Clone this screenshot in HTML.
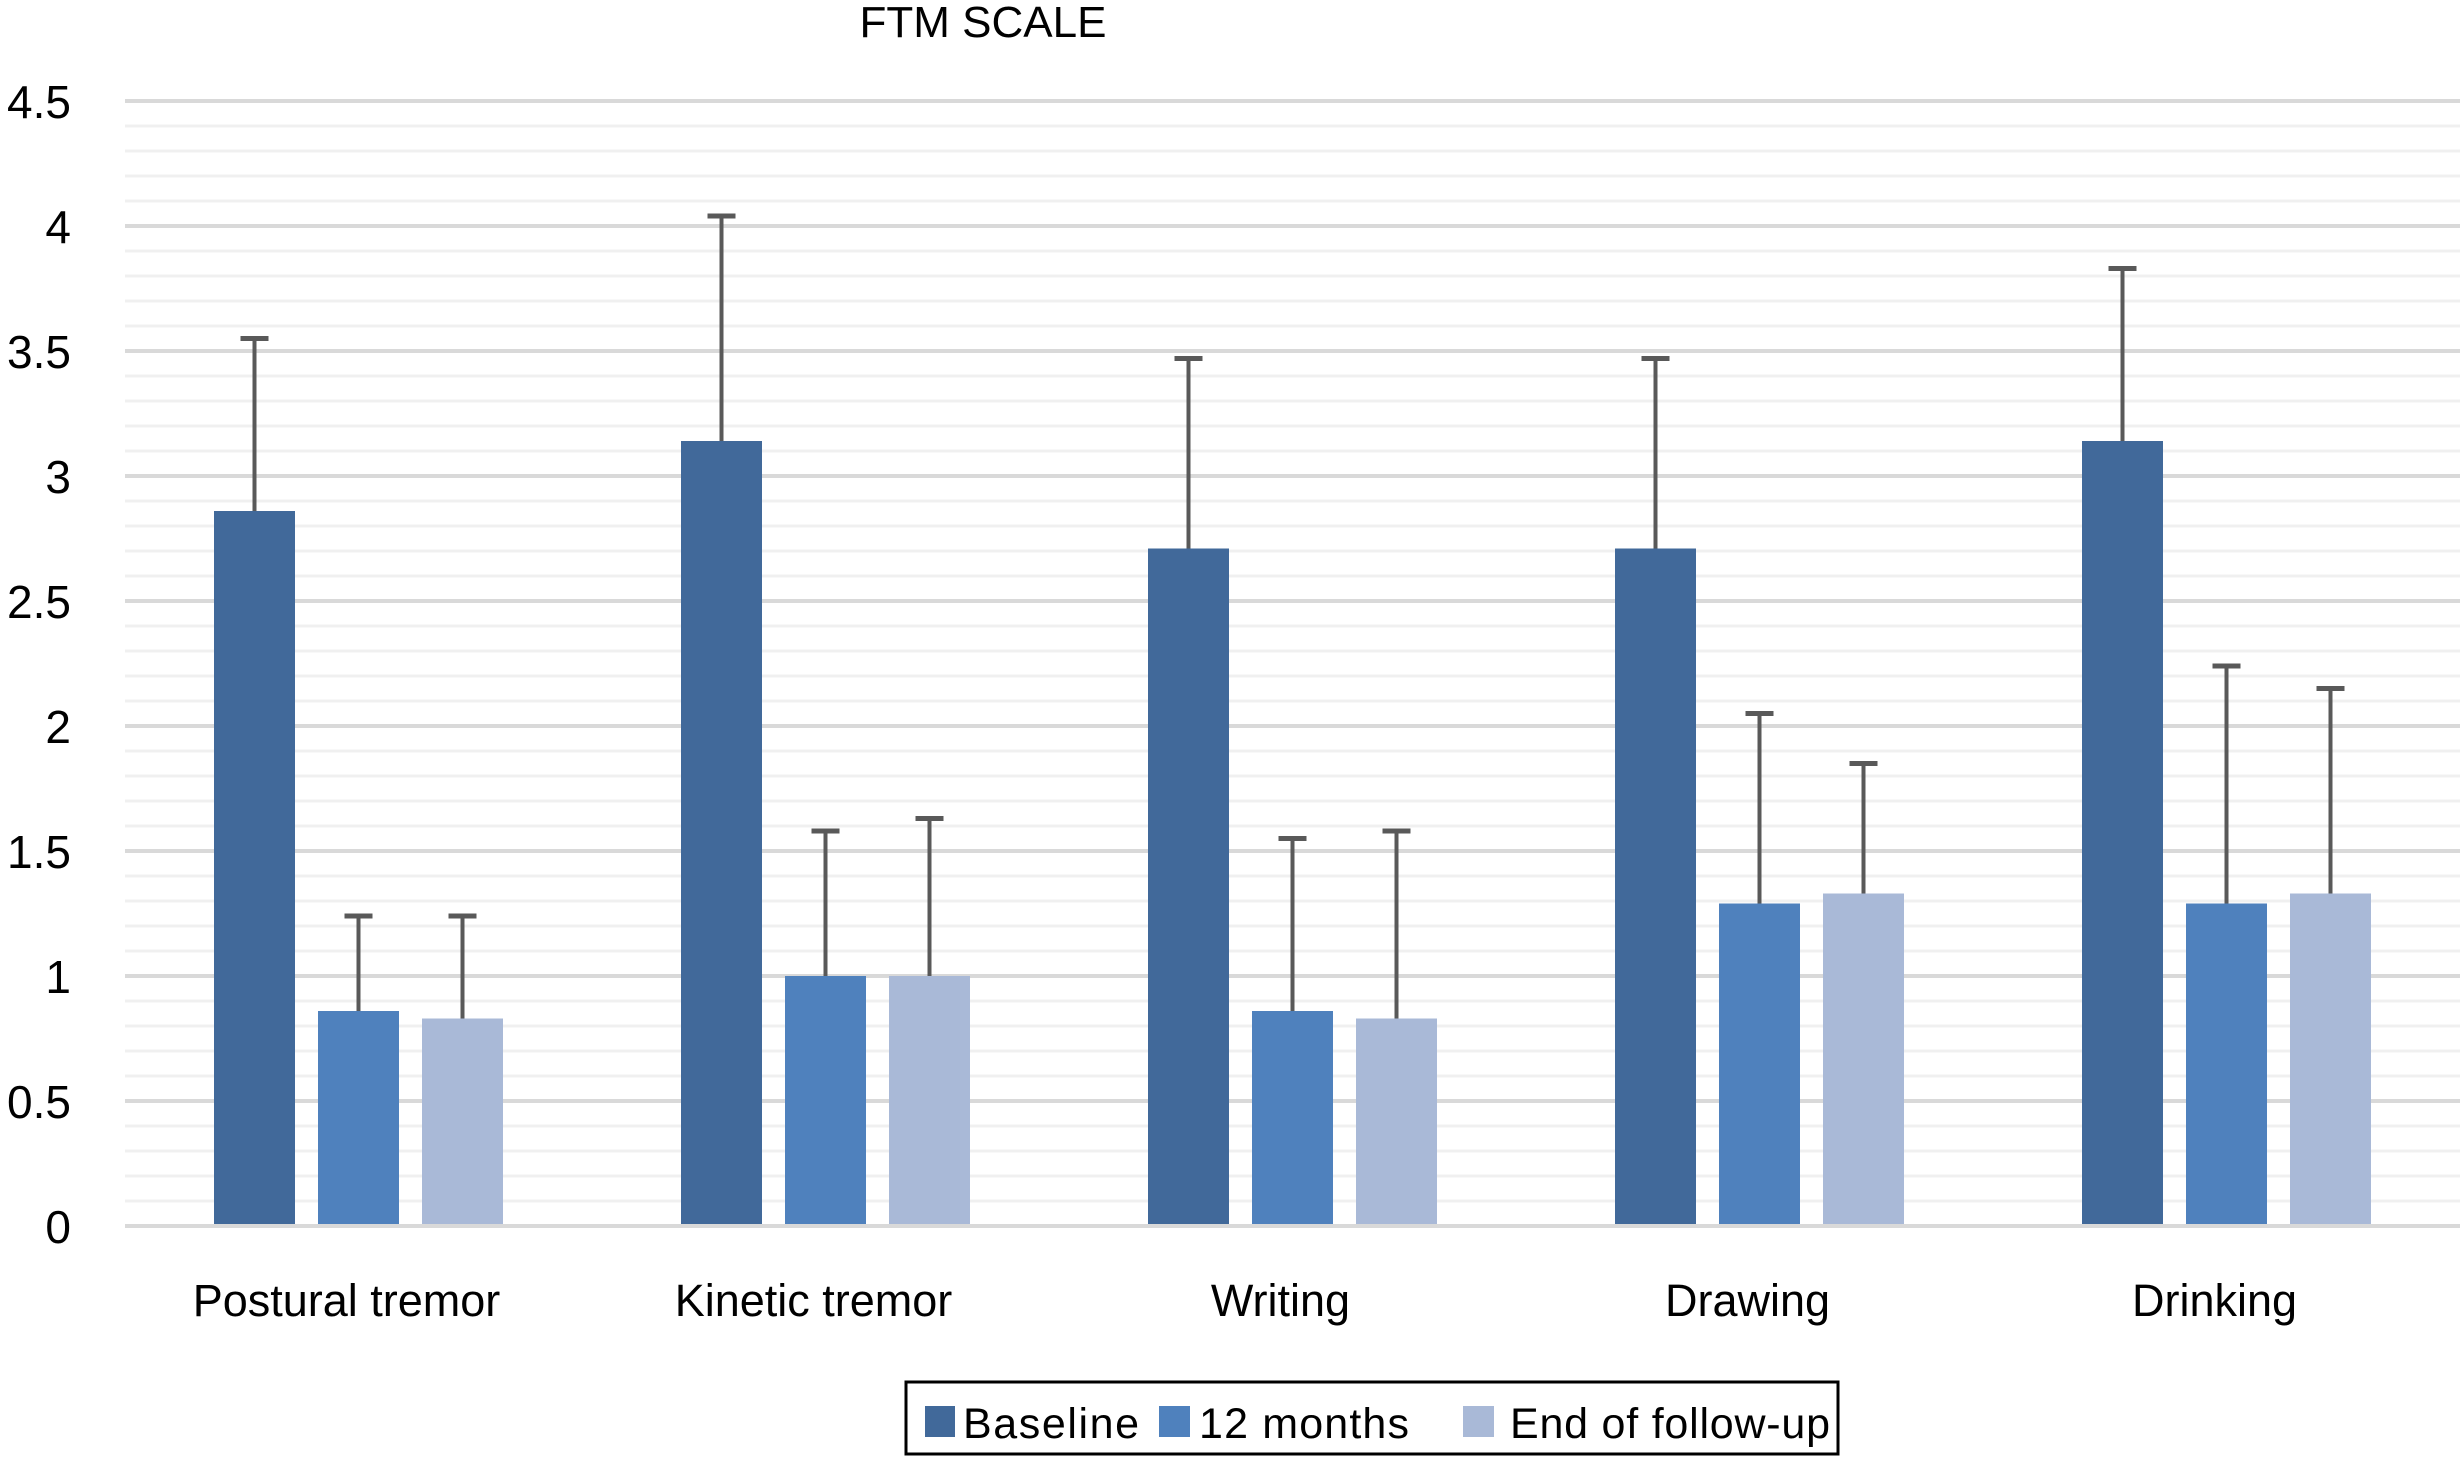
<!DOCTYPE html>
<html><head><meta charset="utf-8"><style>
html,body{margin:0;padding:0;background:#fff;}
svg{display:block;font-family:"Liberation Sans",Arial,sans-serif;}
</style></head><body>
<svg id="chart" width="2464" height="1466" viewBox="0 0 2464 1466">
<text x="983" y="37" font-size="44" text-anchor="middle">FTM SCALE</text>
<g id="grid"></g>
<g id="yticks"></g>
<g id="bars"></g>
<g id="xlabels"></g>
<g>
<rect x="906" y="1382" width="932" height="72" fill="#fff" stroke="#000" stroke-width="3"/>
<rect x="925" y="1406" width="30" height="31" fill="#41699a"/>
<text x="963" y="1438" font-size="43" textLength="176">Baseline</text>
<rect x="1159" y="1406" width="31" height="31" fill="#4f81bd"/>
<text x="1199" y="1438" font-size="43" textLength="210">12 months</text>
<rect x="1463" y="1406" width="31" height="31" fill="#a9b9d7"/>
<text x="1510" y="1438" font-size="43" textLength="320">End of follow-up</text>
</g>
</svg>
<script>
const categories = ["Postural tremor","Kinetic tremor","Writing","Drawing","Drinking"];
const seriesNames = ["Baseline","12 months","End of follow-up"];
const baseline = [2.86, 3.14, 2.71, 2.71, 3.14];
const months12 = [0.86, 1.0, 0.86, 1.29, 1.29];
const endFollow = [0.83, 1.0, 0.83, 1.33, 1.33];
const baselineErr = [0.69, 0.90, 0.76, 0.76, 0.69];
const months12Err = [0.38, 0.58, 0.69, 0.76, 0.95];
const endFollowErr = [0.41, 0.63, 0.75, 0.52, 0.82];
const yTicks = [0, 0.5, 1, 1.5, 2, 2.5, 3, 3.5, 4, 4.5];
const yTickLabels = ["0","0.5","1","1.5","2","2.5","3","3.5","4","4.5"];

const NS = "http://www.w3.org/2000/svg";
const plotL = 125, plotR = 2460, y0 = 1226, pxPerUnit = 250;
const yScale = v => y0 - v * pxPerUnit;
const catW = (plotR - plotL) / categories.length;
const barW = 81, barGap = 23;
const xBar = (ci, si) => plotL + ci * catW + (catW - (3 * barW + 2 * barGap)) / 2 + si * (barW + barGap);
const colors = ["#41699a", "#4f81bd", "#a9b9d7"];
function mk(tag, attrs, parent) { const e = document.createElementNS(NS, tag); for (const k in attrs) e.setAttribute(k, attrs[k]); parent.appendChild(e); return e; }

const grid = document.getElementById("grid");
for (let i = 0; i <= 45; i++) {
  const v = i / 10;
  const major = i % 5 === 0;
  const ln = mk("line", {x1: plotL, x2: plotR, y1: yScale(v), y2: yScale(v), stroke: major ? "#d9d9d9" : "#f0f0f0", "stroke-width": major ? 4 : 3}, grid);
  
  
}
const yt = document.getElementById("yticks");
yTicks.forEach((v, i) => {
  const t = mk("text", {x: 71, y: yScale(v) + 17, "font-size": 46, "text-anchor": "end"}, yt);
  t.textContent = yTickLabels[i];
  
  
});
const series = [baseline, months12, endFollow];
const errs = [baselineErr, months12Err, endFollowErr];
const bars = document.getElementById("bars");
categories.forEach((c, ci) => {
  series.forEach((s, si) => {
    const x = xBar(ci, si);
    const r = mk("rect", {x: x, y: yScale(s[ci]), width: barW, height: y0 - yScale(s[ci]) - 2, fill: colors[si]}, bars);
    
    
    const cx = x + barW / 2, top = yScale(s[ci] + errs[si][ci]);
    const el = mk("line", {x1: cx, x2: cx, y1: yScale(s[ci]), y2: top, stroke: "#595959", "stroke-width": 4}, bars);
    
    
    const cap = mk("line", {x1: cx - 14, x2: cx + 14, y1: top, y2: top, stroke: "#595959", "stroke-width": 5}, bars);
    
    
  });
});
const xl = document.getElementById("xlabels");
categories.forEach((c, ci) => {
  const t = mk("text", {x: plotL + ci * catW + catW / 2 - 12, y: 1316, "font-size": 45, "text-anchor": "middle"}, xl);
  t.textContent = c;
  
  
});
</script>
</body></html>
